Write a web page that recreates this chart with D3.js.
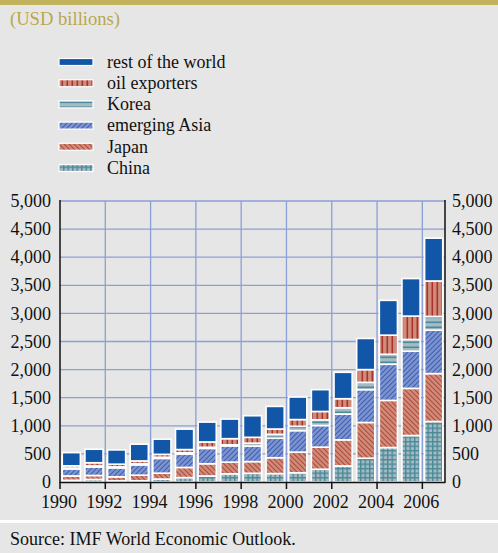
<!DOCTYPE html>
<html>
<head>
<meta charset="utf-8">
<script src="https://cdn.jsdelivr.net/npm/d3@7"></script>
<style>
  html, body { margin: 0; padding: 0; background: #e6e6e6; }
  svg { display: block; }
  text { font-family: "Liberation Serif", "Times New Roman", serif; fill: #111; }
</style>
</head>
<body>
<svg id="chart" width="498" height="553"></svg>
<script>
// ---- data ----
const years = [1990,1991,1992,1993,1994,1995,1996,1997,1998,1999,2000,2001,2002,2003,2004,2005,2006];
const china        = [30, 45, 20, 22, 52, 78, 107,146,155,150,164,227,286,423,613,827,1077];
const japan        = [78, 71, 72, 99,105,181,218,208,208,282,368,393,464,636,839,839,852];
const emergingAsia = [125,152,160,184,263,240,273,289,276,348,382,385,459,584,643,661,773];
const korea        = [15, 18, 17, 20, 20, 20, 20, 18, 52, 68, 77,102,112,130,178,209,244];
const oilExporters = [40, 57, 48, 50, 52, 58, 95,110,104, 95,120,148,161,227,340,416,631];
const restOfWorld  = [235,240,254,298,270,364,353,349,384,402,401,388,470,554,619,668,762];
const yTicks = [0,500,1000,1500,2000,2500,3000,3500,4000,4500,5000];
const xTickYears = [1990,1992,1994,1996,1998,2000,2002,2004,2006];
const seriesNames = ["China","Japan","emerging Asia","Korea","oil exporters","rest of the world"];
const seriesValues = [china, japan, emergingAsia, korea, oilExporters, restOfWorld];
const title = "(USD billions)";
const source = "Source: IMF World Economic Outlook.";

// ---- setup ----
const svg = d3.select("#chart");
const W = 498, H = 553;
const m = {left: 60, right: 445, top: 201, bottom: 482};
const FS = 18;

svg.append("rect").attr("width", W).attr("height", H).attr("fill", "#e6e6e6");
svg.append("rect").attr("x", 0).attr("y", 0).attr("width", W).attr("height", 5).attr("fill", "#c2b25c");
svg.append("rect").attr("x", 0).attr("y", 520).attr("width", W).attr("height", 3).attr("fill", "#ffffff");

svg.append("text").attr("x", 10).attr("y", 25).attr("font-size", 18.6)
  .style("fill", "#b9a84e").text(title);
svg.append("text").attr("x", 10).attr("y", 545).attr("font-size", FS).text(source);

// ---- patterns ----
const defs = svg.append("defs");
function pat(id, size, fill, draw) {
  const p = defs.append("pattern").attr("id", id).attr("patternUnits", "userSpaceOnUse")
    .attr("width", size).attr("height", size);
  p.append("rect").attr("width", size).attr("height", size).attr("fill", fill);
  draw(p, size);
  return p;
}
pat("p-rest", 5, "#1257a7", () => {});
pat("p-oil", 5, "#d08c79", (p, s) => {
  p.append("rect").attr("x", 1.5).attr("y", 0).attr("width", 1.6).attr("height", s).attr("fill", "#a8332e");
});
pat("p-korea", 5, "#a5bac3", (p, s) => {
  p.append("rect").attr("x", 0).attr("y", 1.5).attr("width", s).attr("height", 1.6).attr("fill", "#4b8a98");
});
pat("p-asia", 5, "#7f93cc", (p, s) => {
  p.append("path").attr("d", "M0,5 L5,0 M-1,1 L1,-1 M4,6 L6,4")
    .attr("stroke", "#3a60b8").attr("stroke-width", 1.1).attr("fill", "none");
});
pat("p-japan", 5, "#d08c79", (p, s) => {
  p.append("path").attr("d", "M0,0 L5,5 M4,-1 L6,1 M-1,4 L1,6")
    .attr("stroke", "#b04a3e").attr("stroke-width", 1.1).attr("fill", "none");
});
pat("p-china", 4.5, "#a5bac3", (p, s) => {
  p.append("rect").attr("x", 0).attr("y", 0).attr("width", 1.4).attr("height", s).attr("fill", "#4b8a98");
  p.append("rect").attr("x", 0).attr("y", 0).attr("width", s).attr("height", 1.4).attr("fill", "#4b8a98");
});
const fills = ["url(#p-china)","url(#p-japan)","url(#p-asia)","url(#p-korea)","url(#p-oil)","url(#p-rest)"];

// ---- scales ----
const x = d3.scaleBand().domain(years).range([m.left, m.right]).paddingInner(0.2).paddingOuter(0.1);
const y = d3.scaleLinear().domain([0, 5000]).range([m.bottom, m.top]);
const step = x.step();
const bandLeft = yr => m.left + years.indexOf(yr) * step;

// ---- grid ----
const grid = svg.append("g");
grid.selectAll("line.h").data(yTicks.filter(d => d > 0)).join("line")
  .attr("x1", m.left).attr("x2", m.right)
  .attr("y1", d => y(d)).attr("y2", d => y(d))
  .attr("stroke", "#8c9fd6").attr("stroke-width", 1.3);
grid.selectAll("line.v").data(xTickYears.filter(d => d > 1990)).join("line")
  .attr("x1", d => bandLeft(d)).attr("x2", d => bandLeft(d))
  .attr("y1", m.top).attr("y2", m.bottom)
  .attr("stroke", "#8c9fd6").attr("stroke-width", 1.3);

// ---- stacked bars ----
const table = years.map((yr, i) => {
  const o = {year: yr};
  seriesNames.forEach((n, k) => o[n] = seriesValues[k][i]);
  return o;
});
const stacked = d3.stack().keys(seriesNames)(table);
const barW = x.bandwidth();
svg.append("g").selectAll("g").data(stacked).join("g")
  .attr("fill", (d, i) => fills[i])
  .selectAll("rect").data(d => d).join("rect")
  .attr("x", d => x(d.data.year))
  .attr("width", barW)
  .attr("y", d => y(d[1]))
  .attr("height", d => y(d[0]) - y(d[1]))
  .attr("stroke", "#ffffff").attr("stroke-width", 1.6);

// ---- axes ----
const axisColor = "#111";
svg.append("line").attr("x1", m.left).attr("x2", m.left).attr("y1", m.top - 1).attr("y2", m.bottom + 1)
  .attr("stroke", axisColor).attr("stroke-width", 1.5);
svg.append("line").attr("x1", m.right).attr("x2", m.right).attr("y1", m.top - 1).attr("y2", m.bottom + 1)
  .attr("stroke", axisColor).attr("stroke-width", 1.5);
svg.append("line").attr("x1", m.left).attr("x2", m.right).attr("y1", m.bottom + 0.5).attr("y2", m.bottom + 0.5)
  .attr("stroke", axisColor).attr("stroke-width", 1.5);

const fmt = d3.format(",");
svg.append("g").selectAll("text").data(yTicks).join("text")
  .attr("x", m.left - 9).attr("y", d => y(d)).attr("dy", "0.34em")
  .attr("text-anchor", "end").attr("font-size", FS).text(d => fmt(d));
svg.append("g").selectAll("text").data(yTicks).join("text")
  .attr("x", m.right + 7).attr("y", d => y(d)).attr("dy", "0.34em")
  .attr("text-anchor", "start").attr("font-size", FS).text(d => fmt(d));

svg.append("g").selectAll("line").data(xTickYears).join("line")
  .attr("x1", d => bandLeft(d)).attr("x2", d => bandLeft(d))
  .attr("y1", m.bottom).attr("y2", m.bottom + 7)
  .attr("stroke", axisColor).attr("stroke-width", 1.5);
svg.append("g").selectAll("text").data(xTickYears).join("text")
  .attr("x", d => bandLeft(d) - 1).attr("y", 508)
  .attr("text-anchor", "middle").attr("font-size", FS).text(d => d);

// ---- legend ----
const legendOrder = [5,4,3,2,1,0];
const lg = svg.append("g");
legendOrder.forEach((k, i) => {
  const cy = 62 + i * 21.2;
  lg.append("rect").attr("x", 59).attr("y", cy - 3.5).attr("width", 34).attr("height", 7)
    .attr("fill", fills[k]).attr("stroke", "#ffffff").attr("stroke-width", 1.2);
  lg.append("text").attr("x", 107).attr("y", cy).attr("dy", "0.32em")
    .attr("font-size", FS).text(seriesNames[k]);
});
</script>
</body>
</html>
